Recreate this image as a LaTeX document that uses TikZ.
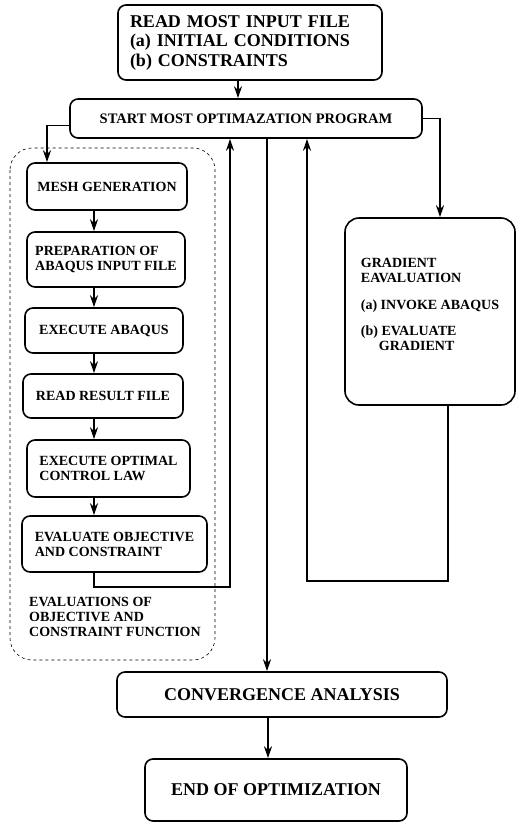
\documentclass[tikz,border=0pt]{standalone}
\usepackage{fontspec}
\setmainfont{Liberation Serif}
\usetikzlibrary{arrows.meta}

\tikzset{
	box/.style={draw, line width=1.6pt, rounded corners=8pt, inner sep=0pt, align=center,
		font=\bfseries\fontsize{14}{15}\selectfont},
	bigbox/.style={box, font=\bfseries\fontsize{18}{19.5}\selectfont},
	arr/.style={line width=1.6pt, -{Stealth[length=12pt,width=8pt]}},
	grp/.style={draw, line width=0.6pt, dash pattern=on 3pt off 3pt, rounded corners=22pt},
}

\begin{document}
\begin{tikzpicture}[x=1pt,y=-1pt]
			\useasboundingbox (0,0) rectangle (518,822);
			% 评价函数的虚线框
			\draw[grp] (10,148) rectangle (215,660);
			% 主流程
			\node[bigbox, minimum width=264pt, minimum height=75pt, text width=240pt, inner xsep=12pt, align=left] (read) at (250,42.5)
				{READ MOST INPUT FILE\\(a) INITIAL CONDITIONS\\(b) CONSTRAINTS};
			\node[box, minimum width=352pt, minimum height=39pt, font=\bfseries\fontsize{14.5}{16}\selectfont] (start) at (246,118.5)
				{START MOST OPTIMAZATION PROGRAM};
			% 左侧各步骤
			\node[box, minimum width=160pt, minimum height=47pt] (mesh) at (107,186.5) {MESH GENERATION};
			\node[box, minimum width=158pt, minimum height=55pt, align=left] (prep) at (106,259.5) {PREPARATION OF\\ABAQUS INPUT FILE};
			\node[box, minimum width=158pt, minimum height=45pt] (exec) at (104,330.5) {EXECUTE ABAQUS};
			\node[box, minimum width=160pt, minimum height=44pt] (res) at (103,396) {READ RESULT FILE};
			\node[box, minimum width=163pt, minimum height=57pt, align=left] (law) at (108.5,468.5) {EXECUTE OPTIMAL\\CONTROL LAW};
			\node[box, minimum width=185pt, minimum height=56pt, align=left] (obj) at (114.5,544) {EVALUATE OBJECTIVE\\AND CONSTRAINT};
			\node[anchor=west, inner sep=0pt, align=left, font=\bfseries\fontsize{14}{15}\selectfont] (evlab) at (29,617)
				{EVALUATIONS OF\\OBJECTIVE AND\\CONSTRAINT FUNCTION};
			% 梯度计算
			\node[box, rounded corners=14pt, minimum width=170pt, minimum height=187pt, align=left] (grad) at (430,311.5)
				{GRADIENT\\EAVALUATION\\[12pt](a) INVOKE ABAQUS\\[11pt](b) EVALUATE\\\hspace*{18pt}GRADIENT\\ \mbox{}};
			% 收敛与结束
			\node[bigbox, minimum width=330pt, minimum height=45pt] (conv) at (282,694.5) {CONVERGENCE ANALYSIS};
			\node[bigbox, minimum width=262pt, minimum height=62pt] (end) at (276,790) {END OF OPTIMIZATION};
			% 连线用的坐标
			\coordinate (ax) at (238,0);
			\coordinate (sx) at (47,0);
			\coordinate (lx) at (94,0);
			\coordinate (fb) at (230,587);
			\coordinate (mx) at (267,0);
			\coordinate (gx) at (440,0);
			\coordinate (gd) at (448,0);
			\coordinate (gb) at (307,581);
			\coordinate (ex) at (268,0);
			% 连线
			\draw[arr] (read.south -| ax) -- (start.north -| ax);
			\draw[arr] ([yshift=-7pt]start.west) -| (mesh.north -| sx);
			\foreach \a/\b in {mesh/prep, prep/exec, exec/res, res/law, law/obj} {
				\draw[arr] (\a.south -| lx) -- (\b.north -| lx);
			}
			\draw[arr] (obj.south -| lx) |- (fb) -- (fb |- start.south);
			\draw[arr] (start.east) -| (grad.north -| gx);
			\draw[arr] (grad.south -| gd) |- (gb) -- (gb |- start.south);
			\draw[arr] (start.south -| mx) -- (conv.north -| mx);
			\draw[arr] (conv.south -| ex) -- (end.north -| ex);
		\end{tikzpicture}
\end{document}
